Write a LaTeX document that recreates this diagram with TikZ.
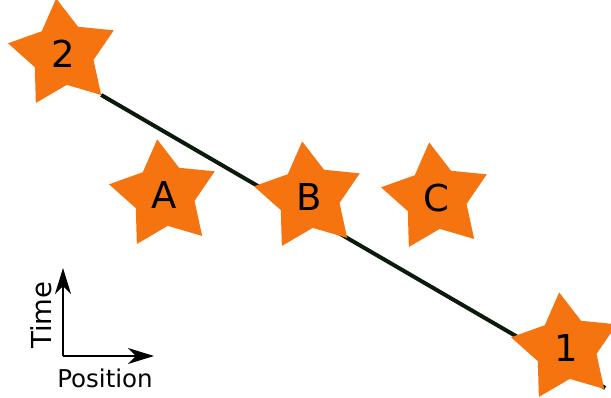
\documentclass[tikz,border=0pt]{standalone}
\usepackage{fontspec}
\setmainfont{DejaVu Sans}
\usetikzlibrary{shapes.geometric,arrows.meta}
\definecolor{starorange}{HTML}{F57410}
\definecolor{linegreen}{HTML}{0C1A0C}
\pgfdeclarelayer{bg}
\pgfsetlayers{bg,main}
\tikzset{
  event/.style={star, star points=5, star point ratio=1.8, minimum size=112pt,
    inner sep=0pt, outer sep=0pt, fill=starorange, draw=none,
    shape border rotate=7, font=\fontsize{37}{37}\selectfont, text=black},
  worldline/.style={draw=linegreen, line width=4pt},
  axis/.style={line width=2pt, -{Stealth[length=26pt,width=16pt,inset=8pt]}},
  axislabel/.style={font=\fontsize{24.5}{24.5}\selectfont, inner sep=0pt}
}
\begin{document}
\begin{tikzpicture}[x=1pt,y=-1pt]
\useasboundingbox (0,0) rectangle (611,398);
\node[event] (e2) at (63,54) {2};
\node[event] (eA) at (164,195) {A};
\node[event] (eB) at (309,197) {B};
\node[event] (eC) at (436,198) {C};
\node[event] (e1) at (566,348) {1};
\begin{pgfonlayer}{bg}
\draw[worldline] (e2.outer point 4) -- ([shift={(1pt,1pt)}]e1.outer point 4);
\end{pgfonlayer}
\coordinate (o) at (63,356);
\coordinate (tup) at (63,268);
\coordinate (tright) at (154,356);
\draw[axis] (o) -- (tup);
\draw[axis] (o) -- (tright);
\node[axislabel, rotate=90, font=\fontsize{27.5}{27.5}\selectfont] (tl) at (41.5,315) {Time};
\node[axislabel] (pl) at (105,378) {Position};
\end{tikzpicture}
\end{document}
